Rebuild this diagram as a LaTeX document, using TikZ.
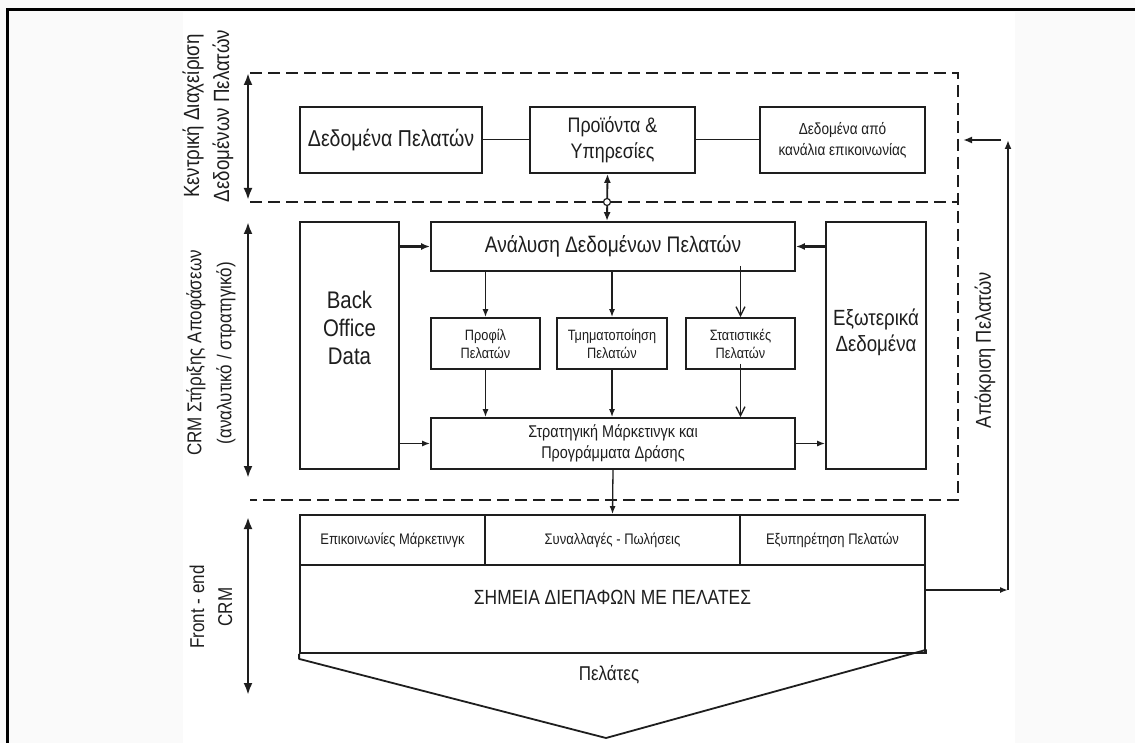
\documentclass[tikz,border=0pt]{standalone}
\usepackage{fontspec}
\setmainfont{Liberation Sans}[FakeStretch=0.85]
\usetikzlibrary{positioning,arrows.meta}
\definecolor{ink}{HTML}{1E1E1E}
\definecolor{paper}{HTML}{FAFAFA}

\begin{document}
\begin{tikzpicture}[
    x=1pt, y=-1pt,
    box/.style={draw=ink, line width=1.8pt, inner sep=0pt, align=center, text=ink, font=\fontsize{22}{26}\selectfont},
    smallbox/.style={box, font=\fontsize{15}{18}\selectfont},
    rowbox/.style={box, minimum height=50pt, font=\fontsize{15.3}{19}\selectfont},
    sidelabel/.style={rotate=90, align=center, text=ink, font=\fontsize{21}{30}\selectfont},
    zone/.style={draw=ink, dash pattern=on 12pt off 6pt, line width=2.2pt},
    arr/.style={-{Latex[length=8pt,width=6pt]}, draw=ink, line width=1.3pt},
    fatarr/.style={-{Latex[length=9pt,width=7pt]}, draw=ink, line width=2.6pt},
    barb/.style={-{Straight Barb[length=9pt,width=9pt]}, draw=ink, line width=1.3pt},
    levelarrow/.style={{Latex[length=12pt,width=9pt]}-{Latex[length=12pt,width=9pt]}, draw=ink, line width=2.6pt}
]
\useasboundingbox (0,0) rectangle (1135,743);
% page and frame
\fill[paper] (0,0) rectangle (1135,743);
\fill[white] (183,12) rectangle (1015,743);
\draw[line width=3pt] (7,743) -- (7,10) -- (1135,10);

% dashed zones
\coordinate (ztl) at (250,73);
\coordinate (ztr) at (958,73);
\coordinate (zbr) at (958,500);
\coordinate (zbl) at (250,500);
\coordinate (zml) at (250,202);
\coordinate (zmr) at (958,202);
\draw[zone] (ztl) -- (ztr) -- (zbr) -- (zbl);
\draw[zone] (zml) -- (zmr);

% level arrows and labels
\coordinate (l1t) at (248,73);
\coordinate (l1b) at (248,200);
\coordinate (l2t) at (248,222);
\coordinate (l2b) at (248,478);
\coordinate (l3t) at (248,517);
\coordinate (l3b) at (248,695);
\draw[levelarrow] (l1t) -- (l1b);
\draw[levelarrow] (l2t) -- (l2b);
\draw[levelarrow] (l3t) -- (l3b);
\node[sidelabel, font=\fontsize{22}{30}\selectfont] (lab1) at (208,116) {Κεντρική Διαχείριση\\Δεδομένων Πελατών};
\node[sidelabel, font=\fontsize{20}{30}\selectfont] (lab2) at (211,353) {CRM Στήριξης Αποφάσεων\\(αναλυτικό / στρατηγικό)};
\node[sidelabel, font=\fontsize{20}{28}\selectfont] (lab3) at (211,607) {Front - end\\CRM};

% central customer data
\node[box, minimum width=182pt, minimum height=66pt, font=\fontsize{23}{28}\selectfont] (dp) at (391,140) {Δεδομένα Πελατών};
\node[box, minimum width=165pt, minimum height=66pt, font=\fontsize{21}{26}\selectfont] (pi) at (612.5,140) {Προϊόντα \&\\Υπηρεσίες};
\node[box, minimum width=165pt, minimum height=66pt, font=\fontsize{16}{21}\selectfont] (dk) at (842.5,140) {Δεδομένα από\\κανάλια επικοινωνίας};
\draw[ink, line width=1pt] (dp) -- (pi);
\draw[ink, line width=1pt] (pi) -- (dk);

% decision support
\node[box, minimum width=99pt, minimum height=247pt, font=\fontsize{24}{28}\selectfont] (bo) at (349.5,345.5) {Back\\Office\\Data\\[8pt]};
\node[box, minimum width=364pt, minimum height=49pt, font=\fontsize{22.5}{26}\selectfont] (an) at (613,246.5) {Ανάλυση Δεδομένων Πελατών};
\node[box, minimum width=100pt, minimum height=247pt] (ex) at (876,345.5) {Εξωτερικά\\Δεδομένα\\[4pt]};
\node[smallbox, minimum width=109pt, minimum height=51pt] (pr) at (485.5,343.5) {Προφίλ\\Πελατών};
\node[smallbox, minimum width=110pt, minimum height=51pt] (tm) at (612,343.5) {Τμηματοποίηση\\Πελατών};
\node[smallbox, minimum width=109pt, minimum height=51pt] (st) at (740.5,343.5) {Στατιστικές\\Πελατών};
\node[box, minimum width=364pt, minimum height=51pt, font=\fontsize{17}{21}\selectfont] (sm) at (613,443.5) {Στρατηγική Μάρκετινγκ και\\Προγράμματα Δράσης};

% link to products (crosses the zone border)
\draw[levelarrow, line width=1.8pt, {Latex[length=9pt,width=7pt]}-{Latex[length=9pt,width=7pt]}] ([xshift=-5pt]pi.south) -- ([xshift=-6pt]an.north);
\node[circle, draw=ink, fill=white, line width=1.2pt, inner sep=0pt, minimum size=7pt] (hub) at (607,202) {};

% flows inside decision support
\draw[fatarr] (bo.east |- an) -- (an.west);
\draw[fatarr] (ex.west |- an) -- (an.east);
\draw[arr] (bo.east |- sm) -- (sm.west);
\draw[arr] (sm.east) -- (ex.west |- sm);
\draw[arr] (an.south -| pr) -- (pr.north);
\draw[arr] (an.south -| tm) -- (tm.north);
\draw[barb] ([yshift=6pt]an.south -| st) -- (st.north);
\draw[arr] (pr.south) -- (sm.north -| pr);
\draw[arr] (tm.south) -- (sm.north -| tm);
\draw[barb] ([yshift=6pt]st.south) -- (sm.north -| st);

% front-end
\node[rowbox, minimum width=185pt] (ep) at (392.5,540) {Επικοινωνίες Μάρκετινγκ};
\node[rowbox, minimum width=255pt] (sp) at (612.5,540) {Συναλλαγές - Πωλήσεις};
\node[rowbox, minimum width=185pt] (ey) at (832.5,540) {Εξυπηρέτηση Πελατών};
\node[box, minimum width=625pt, minimum height=88pt] (sd) at (612.5,609) {};
\node[text=ink, font=\fontsize{20.5}{24}\selectfont] (sdtext) at (612.5,597) {ΣΗΜΕΙΑ ΔΙΕΠΑΦΩΝ ΜΕ ΠΕΛΑΤΕΣ};
\draw[arr] (sm.south) -- (sp.north);

% customers wedge
\coordinate (tip) at (606,738);
\draw[ink, line width=1.8pt, line join=round] (sd.south west) -- ++(0,5) -- (tip) -- ([yshift=4pt]sd.south east) -- (sd.south east);
\node[text=ink, font=\fontsize{20}{24}\selectfont] (cust) at (609,675) {Πελάτες};

% customer response loop
\coordinate (fbr) at (1008,590);
\coordinate (fbt) at (1008,140);
\coordinate (fbs) at (1001,140);
\coordinate (fbe) at (963,140);
\draw[arr, line width=1.8pt] (sd.east |- fbr) -- (fbr);
\draw[fatarr] (fbr) -- (fbt);
\draw[fatarr] (fbs) -- (fbe);
\node[sidelabel, font=\fontsize{21.5}{28}\selectfont] (resp) at (985,350) {Απόκριση Πελατών};
\end{tikzpicture}
\end{document}
